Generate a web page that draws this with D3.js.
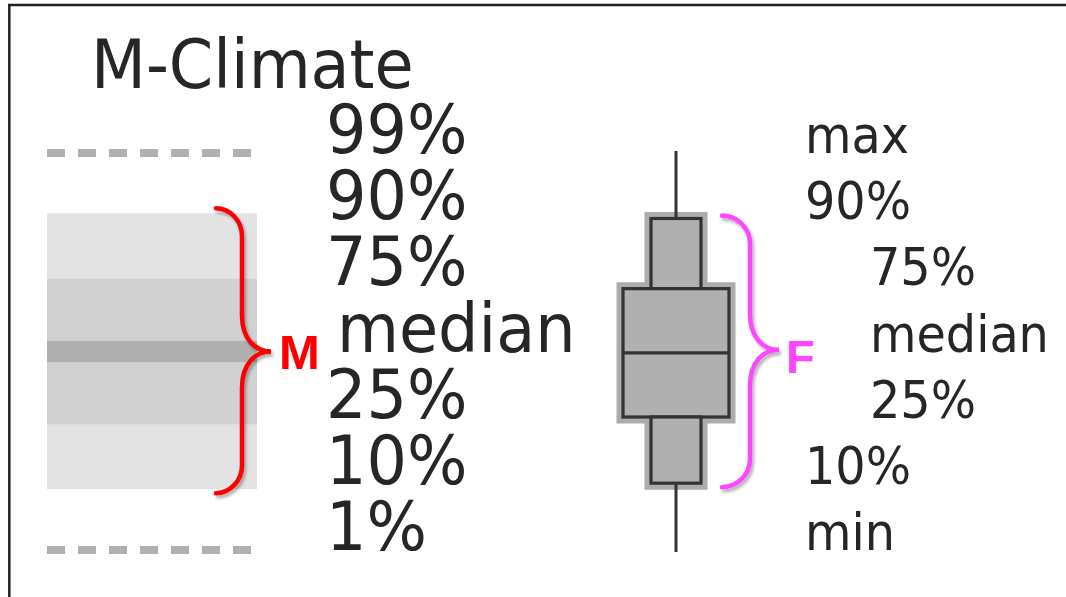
<!DOCTYPE html>
<html>
<head>
<meta charset="utf-8">
<script src="https://cdn.jsdelivr.net/npm/d3@7"></script>
<style>
  html, body { margin: 0; padding: 0; background: #fff; }
  svg { display: block; }
</style>
</head>
<body>
<svg id="chart" width="1066" height="597"></svg>
<script>
// ---------- data ----------
const title = "M-Climate";
const mLabels = ["99%", "90%", "75%", "median", "25%", "10%", "1%"];
const mLevels = [6.0, 5.09, 4.10, 3.0, 1.90, 0.92, 0.0];     // M-climate quantile levels
const mMedianHalfBand = 0.16;
const fLabels = ["max", "90%", "75%", "median", "25%", "10%", "min"];
const fLevels = [6.03, 5.01, 3.95, 2.98, 2.01, 1.01, -0.03]; // forecast distribution levels
const fLabelIndent = [false, false, true, true, true, false, false];
const bracketLabels = ["M", "F"];

// ---------- layout ----------
const svg = d3.select("#chart");
const W = 1066, H = 597;
const y = d3.scaleLinear().domain([0, 6]).range([550, 153]);
const rowY = i => y(6 - i);

const FONT = '"DejaVu Sans Condensed", "DejaVu Sans", sans-serif';
const textColor = "#262626";
const SX = 1.04; // slight horizontal stretch of the label font

function label(sel, x, yy, size) {
  return sel.attr("transform", `translate(${x},${yy}) scale(${SX},1)`)
    .attr("font-family", FONT).attr("font-stretch", "condensed")
    .attr("font-size", size).attr("fill", textColor);
}

// drop shadow filter for braces
const defs = svg.append("defs");
const f = defs.append("filter").attr("id", "shadow").attr("x", "-20%").attr("y", "-5%").attr("width", "160%").attr("height", "115%");
f.append("feDropShadow").attr("dx", 2).attr("dy", 3).attr("stdDeviation", 1.5)
  .attr("flood-color", "#000").attr("flood-opacity", 0.3);

// frame
svg.append("line").attr("x1", 8).attr("x2", W).attr("y1", 5).attr("y2", 5)
  .attr("stroke", "#222").attr("stroke-width", 2.5);
svg.append("line").attr("x1", 9.3).attr("x2", 9.3).attr("y1", 4).attr("y2", H)
  .attr("stroke", "#222").attr("stroke-width", 2.5);

// title
label(svg.append("text"), 91, 88, 68).text(title);

// ---------- M-climate shaded bands ----------
const mx0 = 47, mx1 = 257;
const mv = Object.fromEntries(mLabels.map((l, i) => [l, mLevels[i]]));
const bands = [
  { lo: mv["10%"], hi: mv["90%"], color: "#e3e3e3" },
  { lo: mv["25%"], hi: mv["75%"], color: "#d1d1d1" },
  { lo: mv["median"] - mMedianHalfBand, hi: mv["median"] + mMedianHalfBand, color: "#b0b0b0" }
];
svg.append("g").selectAll("rect").data(bands).join("rect")
  .attr("x", mx0).attr("width", mx1 - mx0)
  .attr("y", d => y(d.hi)).attr("height", d => y(d.lo) - y(d.hi))
  .attr("fill", d => d.color);

// dashed 99% / 1% lines
svg.append("g").selectAll("line").data([mv["99%"], mv["1%"]]).join("line")
  .attr("x1", mx0).attr("x2", 253)
  .attr("y1", d => y(d)).attr("y2", d => y(d))
  .attr("stroke", "#b0b0b0").attr("stroke-width", 8)
  .attr("stroke-dasharray", "18,13");

// M labels
svg.append("g").selectAll("text").data(mLabels).join("text")
  .each(function (d, i) { label(d3.select(this), d === "median" ? 337 : 326, rowY(i), 68); })
  .text(d => d);

// ---------- brace helper ----------
function brace(x0, xv, xt, yTop, yBot, yMid, r, rt) {
  const k = 0.55;
  const p = d3.path();
  p.moveTo(x0, yTop);
  p.bezierCurveTo(x0 + k * (xv - x0), yTop, xv, yTop + r - k * r, xv, yTop + r);
  p.lineTo(xv, yMid - rt);
  p.bezierCurveTo(xv, yMid - rt * 0.35, xv + (xt - xv) * 0.45, yMid, xt, yMid);
  p.bezierCurveTo(xv + (xt - xv) * 0.45, yMid, xv, yMid + rt * 0.35, xv, yMid + rt);
  p.lineTo(xv, yBot - r);
  p.bezierCurveTo(xv, yBot - r + k * r, x0 + k * (xv - x0), yBot, x0, yBot);
  return p.toString();
}

// M brace
svg.append("path")
  .attr("d", brace(216, 242, 271, y(mv["90%"]) - 5, y(mv["10%"]) + 4, y(mv["median"]), 28, 36))
  .attr("fill", "none").attr("stroke", "#ff0000").attr("stroke-width", 4.5)
  .attr("stroke-linecap", "round").attr("filter", "url(#shadow)");
svg.append("text").attr("x", 279).attr("y", 369)
  .attr("font-family", '"Liberation Sans", Arial, sans-serif').attr("font-weight", "bold")
  .attr("font-size", 49).attr("fill", "#ff0000").text(bracketLabels[0]);

// ---------- F box plot ----------
const fv = Object.fromEntries(fLabels.map((l, i) => [l, fLevels[i]]));
const cx = 676, hwN = 25, hwW = 53;
const boxes = [
  { lo: fv["75%"], hi: fv["90%"], hw: hwN },
  { lo: fv["25%"], hi: fv["75%"], hw: hwW },
  { lo: fv["10%"], hi: fv["25%"], hw: hwN }
];
// halo outline of the stepped shape
const halo = d3.path();
halo.moveTo(cx - hwN, y(fv["90%"]));
halo.lineTo(cx + hwN, y(fv["90%"]));
halo.lineTo(cx + hwN, y(fv["75%"]));
halo.lineTo(cx + hwW, y(fv["75%"]));
halo.lineTo(cx + hwW, y(fv["25%"]));
halo.lineTo(cx + hwN, y(fv["25%"]));
halo.lineTo(cx + hwN, y(fv["10%"]));
halo.lineTo(cx - hwN, y(fv["10%"]));
halo.lineTo(cx - hwN, y(fv["25%"]));
halo.lineTo(cx - hwW, y(fv["25%"]));
halo.lineTo(cx - hwW, y(fv["75%"]));
halo.lineTo(cx - hwN, y(fv["75%"]));
halo.closePath();
svg.append("path").attr("d", halo.toString())
  .attr("fill", "#b0b0b0").attr("stroke", "#acacac").attr("stroke-width", 13)
  .attr("stroke-linejoin", "miter");

// whiskers
svg.append("g").selectAll("line").data([[fv["max"], fv["90%"]], [fv["10%"], fv["min"]]]).join("line")
  .attr("x1", cx).attr("x2", cx)
  .attr("y1", d => y(d[0])).attr("y2", d => y(d[1]))
  .attr("stroke", "#333").attr("stroke-width", 3);

svg.append("g").selectAll("rect").data(boxes).join("rect")
  .attr("x", d => cx - d.hw).attr("width", d => 2 * d.hw)
  .attr("y", d => y(d.hi)).attr("height", d => y(d.lo) - y(d.hi))
  .attr("fill", "#b0b0b0").attr("stroke", "#333").attr("stroke-width", 3.2);

svg.append("line")
  .attr("x1", cx - hwW).attr("x2", cx + hwW)
  .attr("y1", y(fv["median"])).attr("y2", y(fv["median"]))
  .attr("stroke", "#333").attr("stroke-width", 3.2);

// F brace
svg.append("path")
  .attr("d", brace(722, 750, 779, y(fv["90%"]) - 3, y(fv["10%"]) + 4, y(fv["median"]) - 3, 28, 36))
  .attr("fill", "none").attr("stroke", "#ff44ff").attr("stroke-width", 4.5)
  .attr("stroke-linecap", "round").attr("filter", "url(#shadow)");
svg.append("text").attr("x", 786).attr("y", 373)
  .attr("font-family", '"Liberation Sans", Arial, sans-serif').attr("font-weight", "bold")
  .attr("font-size", 47).attr("fill", "#ff44ff").text(bracketLabels[1]);

// F labels
svg.append("g").selectAll("text").data(fLabels).join("text")
  .each(function (d, i) { label(d3.select(this), fLabelIndent[i] ? 870 : 805, rowY(i), 51); })
  .text(d => d);
</script>
</body>
</html>
